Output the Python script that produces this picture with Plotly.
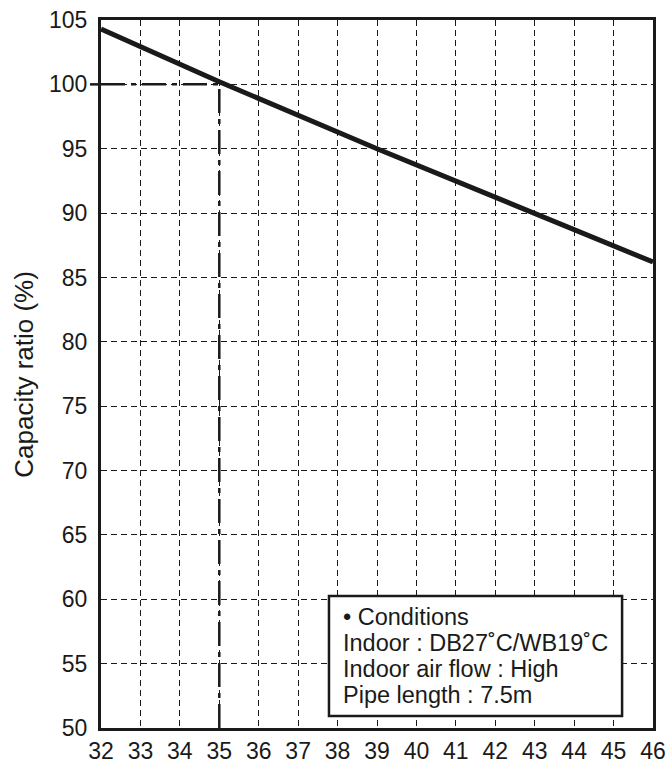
import plotly.graph_objects as go

# outdoor temperature (deg C) vs capacity ratio (%)
temp = [32, 35, 39, 43, 46]
capacity = [104.3, 100.2, 95.0, 90.0, 86.2]

# reference reading at 35 deg C -> 100 %
ref_x = [32, 35, 35]
ref_y = [100, 100, 50]

x_ticks = list(range(32, 47))
y_ticks = list(range(50, 106, 5))

conditions = [
    "• Conditions",
    "Indoor : DB27˚C/WB19˚C",
    "Indoor air flow : High",
    "Pipe length : 7.5m",
]

FONT = "Liberation Sans, Arial, Helvetica, sans-serif"
INK = "#1a1a1a"

fig = go.Figure()

fig.add_trace(go.Scatter(
    x=ref_x, y=ref_y, mode="lines",
    line=dict(color=INK, width=2.5, dash="24px,6px,5px,6px"),
    hoverinfo="skip", showlegend=False,
))
fig.add_trace(go.Scatter(
    x=temp, y=capacity, mode="lines",
    line=dict(color=INK, width=5),
    showlegend=False,
))

# conditions box
fig.add_shape(type="rect", xref="paper", yref="paper",
              x0=0.413, x1=0.944, y0=0.0169, y1=0.1864,
              line=dict(color=INK, width=2.5), fillcolor="white", layer="above")

line_y = [0.1568, 0.1201, 0.0833, 0.0466]
for txt, yy in zip(conditions, line_y):
    fig.add_annotation(text=txt, xref="paper", yref="paper", x=0.437, y=yy,
                       xanchor="left", yanchor="middle", showarrow=False,
                       borderpad=0,
                       font=dict(family=FONT, size=23.5, color=INK))

# little stub of the 100 % line sticking out left of the axis
fig.add_shape(type="line", xref="paper", yref="y", x0=-0.02, x1=0, y0=100, y1=100,
              line=dict(color=INK, width=2.5), layer="above")

fig.add_annotation(text="Capacity ratio (%)", xref="paper", yref="paper",
                   x=-0.14, y=0.5, xanchor="center", yanchor="middle",
                   textangle=-90, showarrow=False,
                   font=dict(family=FONT, size=26, color=INK))

axis_style = dict(
    ticks="", showgrid=True, gridcolor=INK, gridwidth=1, griddash="6px,4px",
    showline=True, linecolor=INK, linewidth=3, mirror=True, zeroline=False,
    automargin=False, tickfont=dict(family=FONT, size=23, color=INK),
)
fig.update_xaxes(range=[32, 46], tickvals=x_ticks, ticklabelstandoff=0, **axis_style)
fig.update_yaxes(range=[50, 105], tickvals=y_ticks, ticklabelstandoff=6, **axis_style)

fig.update_layout(
    template="none",
    width=670, height=768,
    margin=dict(l=101, r=17, t=20, b=40),
    paper_bgcolor="white", plot_bgcolor="white",
    font=dict(family=FONT, color=INK),
    showlegend=False,
)

# drop the default page margin so the figure sits at the window's corner
fig.write_html("out.html", config={"displayModeBar": False},
               post_script="document.body.style.margin='0';")
